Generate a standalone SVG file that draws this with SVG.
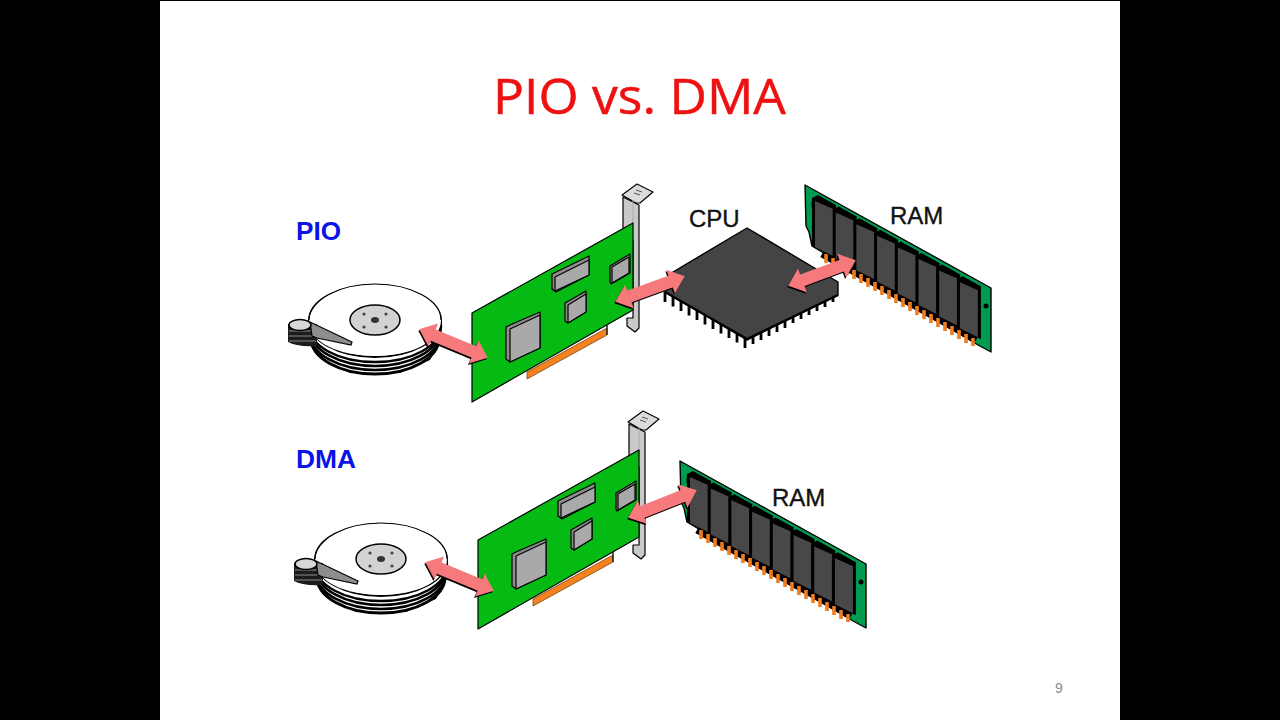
<svg xmlns="http://www.w3.org/2000/svg" xmlns:xlink="http://www.w3.org/1999/xlink" width="1280" height="720" viewBox="0 0 1280 720">
<style>
.lbl{font-family:"Liberation Sans",Arial,sans-serif;font-size:24px;fill:#111;stroke:#111;stroke-width:.35}
.blue{font-family:"Liberation Sans",Arial,sans-serif;font-size:25px;font-weight:bold;fill:#0a14e6}
.k{stroke:#000;stroke-width:1.2;stroke-linejoin:round}
.pcb{fill:#06ba14}
.chip{fill:#a9a9a9}
.chipside{fill:#8c8c8c}
.arrow{fill:#f67a7c;stroke:#f67a7c;stroke-width:2.4;stroke-linejoin:miter}
.shadow{fill:#000;stroke:#000;stroke-width:2.4;stroke-linejoin:miter}
</style>
<defs>
<g id="diskShape">
<g fill="#fff" stroke="#000">
<path d="M318 345C330 362 350 375 375 375C405 375 430 360 438 332V345L430 360L400 373H350L325 360Z" fill="#000" stroke="none"/>
<ellipse cx="375" cy="338" rx="64" ry="36" stroke-width="3"/>
<ellipse cx="375" cy="334" rx="65" ry="36" stroke-width="2.6"/>
<ellipse cx="375" cy="330" rx="65" ry="36" stroke-width="2.6"/>
<ellipse cx="375" cy="326" rx="66" ry="36" stroke-width="2.4"/>
<ellipse cx="375" cy="321" rx="66" ry="36" stroke-width="2"/>
</g>
<path d="M441 320c0 22-30 36-66 36s-66-14-66-34c0-21 30-38 66-38s66 15 66 36Z" fill="#fff"/>
<path d="M441 320c0-20-30-36-66-36s-66 16-66 36" fill="none" stroke="#000" stroke-width="1.2"/>
<ellipse cx="375" cy="320" rx="25" ry="15" fill="#d2d2d2" stroke="#000" stroke-width="1.5"/>
<ellipse cx="375" cy="320" rx="4" ry="3" fill="#333"/>
<g fill="#444"><circle cx="364" cy="314" r="1.6"/><circle cx="386" cy="314" r="1.6"/><circle cx="364" cy="327" r="1.6"/><circle cx="386" cy="327" r="1.6"/></g>
<path d="M288 324V342Q296 347 317 346V324Z" fill="#1c1c1c"/>
<path d="M289 331H316M289 336H316M289 341H316" stroke="#999" stroke-width=".9"/>
<path d="M310 322L352 342L351 345L317 338L312 336Z" fill="#8d8d8d" stroke="#000" stroke-width="1.2"/>
<ellipse cx="300" cy="325" rx="11" ry="5.500" fill="#d8d8d8" stroke="#000" stroke-width="1.5"/>
</g>
<g id="cardShape">
<path d="M623 197V240H633V318H627V326L635 332L639 328V205Z" fill="#c9c9c9" stroke="#000" stroke-width="1.2" stroke-linejoin="round"/>
<path d="M622 195L637 184L653 192L640 203L636 203Z" fill="#dcdcdc" stroke="#000" stroke-width="1.1" stroke-linejoin="round"/>
<path d="M633 200V226" stroke="#aaa" stroke-width="1"/>
<path d="M636 190l6 2M634 193l6 2" stroke="#555" stroke-width="1"/>
<path d="M527 372L607 328V335L527 379Z" fill="#f5821f" stroke="#7a4a10" stroke-width=".8"/>
<path d="M607 324V335" stroke="#222" stroke-width="1.5"/>
<path d="M472 313L633 223V310L472 402Z" class="pcb k"/>
<g class="k" stroke-width=".8">
<path d="M506 327L510 325L540 312V348L510 362L506 359Z" class="chipside"/><path d="M510 329L540 315V348L510 362Z" class="chip"/>
<path d="M552 274L589 256V275L556 292L552 289Z" class="chipside"/><path d="M555 277L589 260V275L555 291Z" class="chip"/>
<path d="M565 303L586 291V312L568 323L565 321Z" class="chipside"/><path d="M568 305L586 294V312L568 323Z" class="chip"/>
<path d="M610 266L630 254V273L611 284L610 282Z" class="chipside"/><path d="M612 267L629 257V273L612 283Z" class="chip"/>
</g>
</g>
<g id="chipShape">
<path d="M812 198L818 195L836 205V258L816 248L812 246Z" fill="#000"/>
<path d="M815 201L833 209V256L815 247Z" fill="#484848"/>
</g>
<g id="ramShape">
<path d="M805 185L991 288V352L978 345L812 246L809 232L806 226Z" fill="#009a50" stroke="#000" stroke-width="1.4" stroke-linejoin="round"/>
<path d="M822 254L976 340" stroke="#000" stroke-width="7"/>
<path d="M813 198Q810 205 813 212Z" fill="#000"/>
<circle cx="986" cy="306" r="2.500" fill="#000"/>
<use xlink:href="#chipShape" href="#chipShape"/>
<use xlink:href="#chipShape" href="#chipShape" x="20.7" y="11.6"/>
<use xlink:href="#chipShape" href="#chipShape" x="41.4" y="23.2"/>
<use xlink:href="#chipShape" href="#chipShape" x="62.1" y="34.8"/>
<use xlink:href="#chipShape" href="#chipShape" x="82.8" y="46.4"/>
<use xlink:href="#chipShape" href="#chipShape" x="103.5" y="58"/>
<use xlink:href="#chipShape" href="#chipShape" x="124.2" y="69.6"/>
<use xlink:href="#chipShape" href="#chipShape" x="144.9" y="81.2"/>
<path d="M826 254v9M833 258v9M840 262v9M847 266v9M854 270v9M861 274v9M868 278v9M875 282v9M882 286v9M889 290v9M896 294v9M903 298v9M910 302v9M917 306v9M924 310v9M931 314v9M938 318v9M945 322v9M952 326v9M959 330v9M966 334v9M973 338v8" stroke="#f07c1c" stroke-width="3.6"/>
</g>
<polygon id="a1" points="421,330 435.900,325.400 434,330 476.800,347.800 478.700,343.200 486,357 471.100,361.600 473,357 430.200,339.200 428.300,343.800"/>
<polygon id="a2" points="617,301 624.900,287.500 626.600,292.200 670,276.400 668.300,271.700 683,277 675.100,290.500 673.400,285.800 630,301.600 631.700,306.300"/>
<polygon id="a3" points="790,285 797.700,271.400 799.400,276.100 841,260.500 839.300,255.800 854,261 846.300,274.600 844.600,269.900 803,285.500 804.700,290.200"/>
<polygon id="a4" points="630,517 637.400,503.200 639.200,507.900 682,490.900 680.200,486.200 695,491 687.600,504.800 685.800,500.100 643,517.100 644.800,521.800"/>
</defs>
<rect width="1280" height="720" fill="#000"/>
<rect x="160" y="1" width="960" height="719" fill="#fff"/>
<text id="title" x="493" y="113.500" font-family="'Open Sans','Noto Sans',sans-serif" font-size="50" fill="#ee1111" stroke="#ee1111" stroke-width=".5" textLength="293" lengthAdjust="spacingAndGlyphs">PIO vs. DMA</text>
<text id="pageno" x="1055" y="693" font-family="'Liberation Sans',sans-serif" font-size="14" fill="#8a8a8a">9</text>
<text id="lblPIO" class="blue" x="296" y="240" textLength="45" lengthAdjust="spacingAndGlyphs">PIO</text>
<text id="lblDMA" class="blue" x="296" y="468" textLength="60" lengthAdjust="spacingAndGlyphs">DMA</text>
<g id="disk1"><use xlink:href="#diskShape" href="#diskShape"/></g>
<g id="card1"><use xlink:href="#cardShape" href="#cardShape"/></g>
<g id="cpu">
<path d="M665 292v10M673 296.500v10M681 301v10M689 305.500v10M697 310v10M705 314.500v10M713 319v10M721 323.500v10M729 328v10M737 332.500v10M745 337v11M753 334v10M761 330v10M769 326v10M777 322v10M785 318v10M793 314v9M801 310v9M809 306v9M817 302v9M825 298v9M833 294v8" stroke="#000" stroke-width="2.8"/>
<path d="M668 275L747 228L838 282V295L747 340L665 292Z" fill="#444" stroke="#000" stroke-width="1.4" stroke-linejoin="round"/>
<path d="M665 292L747 339L838 295" fill="none" stroke="#000" stroke-width="2.4"/>
<text class="lbl" x="689" y="227">CPU</text>
</g>
<g id="ram1"><use xlink:href="#ramShape" href="#ramShape"/><text class="lbl" x="890" y="224">RAM</text></g>
<g id="disk2"><use xlink:href="#diskShape" href="#diskShape" x="6" y="239"/></g>
<g id="card2"><use xlink:href="#cardShape" href="#cardShape" x="6" y="227"/></g>
<g id="ram2"><use xlink:href="#ramShape" href="#ramShape" x="-125" y="276"/><text class="lbl" x="772" y="506">RAM</text></g>
<g id="connectors">
<g class="shadow"><use xlink:href="#a1" href="#a1" x="-1" y="1.500"/><use xlink:href="#a2" href="#a2" x="-1" y="1.500"/><use xlink:href="#a3" href="#a3" x="-1" y="1.500"/><use xlink:href="#a4" href="#a4" x="-1" y="1.500"/><use xlink:href="#a1" href="#a1" x="5" y="234.500"/></g>
<g class="arrow"><use xlink:href="#a1" href="#a1"/><use xlink:href="#a2" href="#a2"/><use xlink:href="#a3" href="#a3"/><use xlink:href="#a4" href="#a4"/><use xlink:href="#a1" href="#a1" x="6" y="233"/></g>
</g>
</svg>
